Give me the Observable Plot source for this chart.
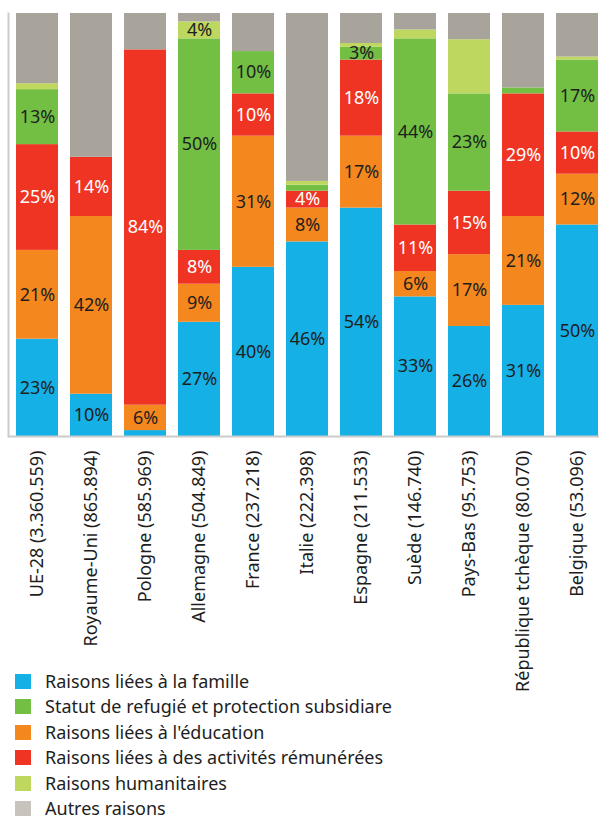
<!DOCTYPE html>
<html>
<head>
<meta charset="utf-8">
<script src="https://cdn.jsdelivr.net/npm/d3@7"></script>
<script src="https://cdn.jsdelivr.net/npm/@observablehq/plot@0.6"></script>
<style>
  body { margin: 0; background: #fff; font-family: "Noto Sans", sans-serif; overflow: hidden; }
  #chart svg { overflow: visible; display: block; }
  .legend { margin: -3px 0 0 0; padding: 0; }
  .legend .row { position: relative; height: 25.4px; line-height: 25.4px; font-size: 18px; color: #1e1e1e; padding-left: 45px; white-space: nowrap; }
  .legend .sw { position: absolute; left: 15px; top: 5px; width: 16px; height: 15px; }
</style>
</head>
<body>
<div id="chart"></div>
<div class="legend" id="legend"></div>
<script>
const countries = ["UE-28 (3.360.559)", "Royaume-Uni (865.894)", "Pologne (585.969)", "Allemagne (504.849)", "France (237.218)", "Italie (222.398)", "Espagne (211.533)", "Suède (146.740)", "Pays-Bas (95.753)", "République tchèque (80.070)", "Belgique (53.096)"];

const seriesNames = ["Raisons liées à la famille", "Raisons liées à l'éducation", "Raisons liées à des activités rémunérées", "Statut de refugié et protection subsidiare", "Raisons humanitaires", "Autres raisons"];
const legendOrder = ["Raisons liées à la famille", "Statut de refugié et protection subsidiare", "Raisons liées à l'éducation", "Raisons liées à des activités rémunérées", "Raisons humanitaires", "Autres raisons"];
const colors = ["#15b0e5", "#f5871f", "#ef3424", "#72bf44", "#bed85f", "#a8a49c"];
const legendColors = {"Autres raisons": "#c8c4bd"};

// values (% of permits), bottom to top
const famille     = [23, 10, 1.4, 27, 40, 46, 54, 33, 26, 31, 50];
const education   = [21, 42, 6, 9, 31, 8, 17, 6, 17, 21, 12];
const remunerees  = [25, 14, 84, 8, 10, 4, 18, 11, 15, 29, 10];
const refugie     = [13, 0, 0, 50, 10, 1.4, 3, 44, 23, 1.4, 17];
const humanitaire = [1.4, 0, 0, 4, 0, 0.9, 0.9, 2.1, 12.8, 0, 0.7];
const autres      = [16.6, 34, 8.6, 2, 9, 39.7, 7.1, 3.9, 6.2, 17.6, 10.3];

// printed labels (null = not printed)
const familleLabels     = [23, 10, null, 27, 40, 46, 54, 33, 26, 31, 50];
const educationLabels   = [21, 42, 6, 9, 31, 8, 17, 6, 17, 21, 12];
const remuneresLabels   = [25, 14, 84, 8, 10, 4, 18, 11, 15, 29, 10];
const refugieLabels     = [13, null, null, 50, 10, null, 3, 44, 23, null, 17];
const humanitaireLabels = [null, null, null, 4, null, null, null, null, null, null, null];
const autresLabels      = [null, null, null, null, null, null, null, null, null, null, null];

const seriesValues = [famille, education, remunerees, refugie, humanitaire, autres];
const seriesLabels = [familleLabels, educationLabels, remuneresLabels, refugieLabels, humanitaireLabels, autresLabels];

const data = [];
countries.forEach((c, i) => {
  seriesNames.forEach((s, j) => {
    const lab = seriesLabels[j][i];
    data.push({country: c, series: s, value: seriesValues[j][i], label: lab == null ? null : lab + "%"});
  });
});

const RED = seriesNames[2];

const chart = Plot.plot({
  width: 599,
  height: 672,
  marginTop: 13,
  marginBottom: 236,
  marginLeft: 8,
  marginRight: 0,
  style: {fontFamily: "'Noto Sans', sans-serif", fontSize: "18px", color: "#1e1e1e", background: "white"},
  x: {domain: countries, range: [8, 606], paddingInner: 0.228, paddingOuter: 0.11, label: null, tickRotate: -90, tickSize: 0, tickPadding: 14},
  y: {domain: [0, 100], axis: null},
  color: {domain: seriesNames, range: colors},
  marks: [
    Plot.barY(data, {x: "country", y: "value", fill: "series", order: seriesNames}),
    Plot.text(data, Plot.stackY({x: "country", y: "value", z: "series", order: seriesNames,
      text: d => d.series === RED ? null : d.label, fill: "#1e1e1e", fontSize: 18})),
    Plot.text(data, Plot.stackY({x: "country", y: "value", z: "series", order: seriesNames,
      text: d => d.series === RED ? d.label : null, fill: "white", fontSize: 18})),
    Plot.ruleY([0], {stroke: "#cccccc", strokeWidth: 2}),
    Plot.frame({anchor: "left", stroke: "#cccccc", strokeWidth: 2})
  ]
});
document.getElementById("chart").appendChild(chart);

const leg = document.getElementById("legend");
legendOrder.forEach(s => {
  const row = document.createElement("div");
  row.className = "row";
  const sw = document.createElement("span");
  sw.className = "sw";
  sw.style.background = legendColors[s] || colors[seriesNames.indexOf(s)];
  row.appendChild(sw);
  row.appendChild(document.createTextNode(s));
  leg.appendChild(row);
});
</script>
</body>
</html>
